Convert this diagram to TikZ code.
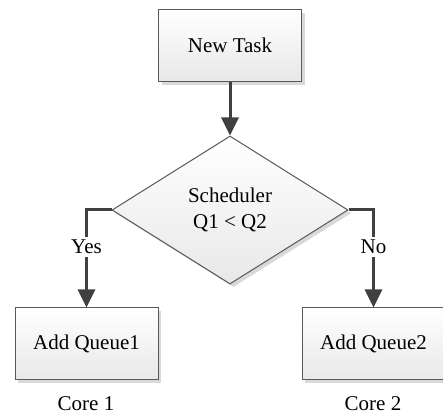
\documentclass[tikz,border=0pt]{standalone}
\usepackage{fontspec}
\setmainfont{Liberation Serif}
\usetikzlibrary{arrows.meta,shapes.geometric,shadows}

\tikzset{
  block/.style={draw=black!65, line width=0.5pt, top color=white, bottom color=black!9,
    minimum width=71.5pt, minimum height=36pt, inner sep=0pt,
    drop shadow={shadow xshift=1.6pt, shadow yshift=-1.6pt, fill=black!15, opacity=1}},
  decision/.style={block, diamond, aspect=1.6, minimum width=118pt, minimum height=74pt,
    align=center},
  flow/.style={draw=black!75, line width=1.5pt, -{Triangle[length=9pt,width=8.5pt]}},
  answer/.style={fill=white, inner sep=1.5pt},
}

\begin{document}
\begin{tikzpicture}[x=0.5pt, y=-0.5pt, font=\fontsize{10.5}{12.6}\selectfont]
      \useasboundingbox (0,0) rectangle (443,415);
      \node[block] (task) at (230,45.5) {New Task};
      \node[decision] (sched) at (230,210) {Scheduler\\Q1 < Q2};
      \node[block] (q1) at (86.5,344) {Add Queue1};
      \node[block] (q2) at (373.5,344) {Add Queue2};
      \node (core1) at (86,403.5) {Core 1};
      \node (core2) at (373,403.5) {Core 2};
      \begin{scope}[flow]
        \draw (task) to (sched);
        \draw (sched.west) -| node[answer, pos=0.69]{Yes} (q1.north);
        \draw (sched.east) -| node[answer, pos=0.69]{No} (q2.north);
      \end{scope}
    \end{tikzpicture}
\end{document}
